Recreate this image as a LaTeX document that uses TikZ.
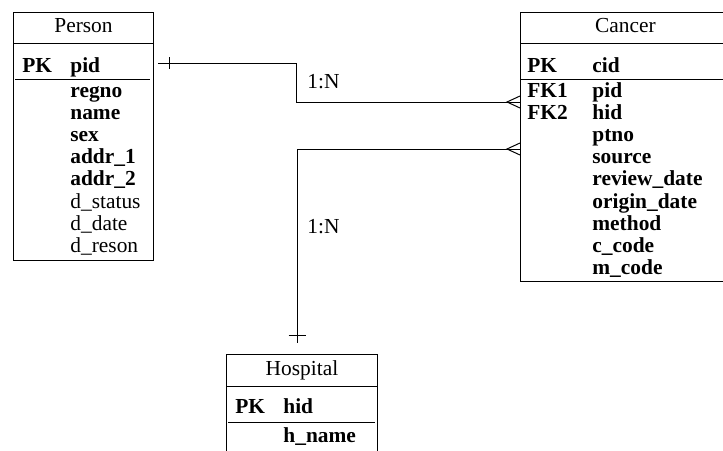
\documentclass[tikz,border=0pt]{standalone}
\usepackage{fontspec}
\setmainfont{Liberation Serif}
\usetikzlibrary{positioning}

\begin{document}
\begin{tikzpicture}[
  x=0.5pt, y=-0.5pt,
  every node/.style={font=\fontsize{10.7}{10.7}\selectfont},
  entity/.style={draw, line width=0.5pt, anchor=north west, inner sep=0pt},
  head/.style={anchor=base, inner sep=0pt},
  fld/.style={anchor=base west, inner sep=0pt, text height=7.5pt, text depth=2.5pt},
  fldb/.style={fld, font=\fontsize{10.7}{10.7}\selectfont\bfseries},
  nextrow/.style={below right=0.7pt and 0pt of #1.south west, anchor=north west},
  lbl/.style={anchor=base west, inner sep=0pt},
  rule/.style={line width=0.5pt},
  rel/.style={line width=0.5pt},
]
  \useasboundingbox (0,0) rectangle (723,450);
  \clip (0,0) rectangle (723,450);

  % Person
  \node[entity, minimum width=70pt, minimum height=124pt] (person) at (13,12) {};
  \node[head] (persontitle) at ([yshift=-10pt]person.north) {Person};
  \draw[rule] (person.north west) ++(0,31) -- ++(140,0);
  \node[fldb] (ppk) at (22,72) {PK};
  \node[fldb] (ppid) at (70,72) {pid};
  \draw[rule] (person.north west) ++(2,67) -- ++(135,0);
  \node[fldb] (regno) at (70,97) {regno};
  \node[fldb, nextrow=regno] (pname) {name};
  \node[fldb, nextrow=pname] (sex) {sex};
  \node[fldb, nextrow=sex] (addr1) {addr\_1};
  \node[fldb, nextrow=addr1] (addr2) {addr\_2};
  \node[fld, nextrow=addr2] (dstatus) {d\_status};
  \node[fld, nextrow=dstatus] (ddate) {d\_date};
  \node[fld, nextrow=ddate] (dreson) {d\_reson};

  % Cancer
  \node[entity, minimum width=105pt, minimum height=134.5pt] (cancer) at (520,12) {};
  \node[head] (cancertitle) at ([yshift=-10pt]cancer.north) {Cancer};
  \draw[rule] (cancer.north west) ++(0,31) -- ++(210,0);
  \node[fldb] (cpk) at (527,72) {PK};
  \node[fldb] (cid) at (592,72) {cid};
  \draw[rule] (cancer.north west) ++(0,67) -- ++(210,0);
  \node[fldb] (fk1) at (527,97) {FK1};
  \node[fldb, nextrow=fk1] (fk2) {FK2};
  \node[fldb] (cpid) at (592,97) {pid};
  \node[fldb, nextrow=cpid] (chid) {hid};
  \node[fldb, nextrow=chid] (ptno) {ptno};
  \node[fldb, nextrow=ptno] (source) {source};
  \node[fldb, nextrow=source] (review) {review\_date};
  \node[fldb, nextrow=review] (origin) {origin\_date};
  \node[fldb, nextrow=origin] (method) {method};
  \node[fldb, nextrow=method] (ccode) {c\_code};
  \node[fldb, nextrow=ccode] (mcode) {m\_code};

  % Hospital
  \node[entity, minimum width=75.5pt, minimum height=100pt] (hospital) at (226,354) {};
  \node[head] (hospitaltitle) at ([yshift=-10.5pt]hospital.north) {Hospital};
  \draw[rule] (hospital.north west) ++(0,32) -- ++(151,0);
  \node[fldb] (hpk) at (235,413) {PK};
  \node[fldb] (hhid) at (283,413) {hid};
  \draw[rule] (hospital.north west) ++(2,68) -- ++(147,0);
  \node[fldb] (hname) at (283,442) {h\_name};

  % relations
  \coordinate (bend1) at (296,63);
  \coordinate (bend2) at (297,149);
  \coordinate (foot1) at (520,102);
  \coordinate (foot2) at (520,149);

  \draw[rel, shorten <=2pt] (person.east |- bend1) -- (bend1) |- (foot1);
  \draw[rel] (person.east |- bend1) ++(15,-6) -- ++(0,12);
  \draw[rel] (foot1) ++(0,-6) -- ++(-13,6) -- ++(13,6);
  \node[lbl] (card1) at (307,88) {1:N};

  \draw[rel, shorten >=5.5pt] (foot2) -- (bend2) -- (bend2 |- hospital.north);
  \draw[rel] (foot2) ++(0,-6) -- ++(-13,6) -- ++(13,6);
  \draw[rel] (bend2 |- hospital.north) ++(-8.5,-19) -- ++(17,0);
  \node[lbl] (card2) at (307,233) {1:N};
\end{tikzpicture}
\end{document}
